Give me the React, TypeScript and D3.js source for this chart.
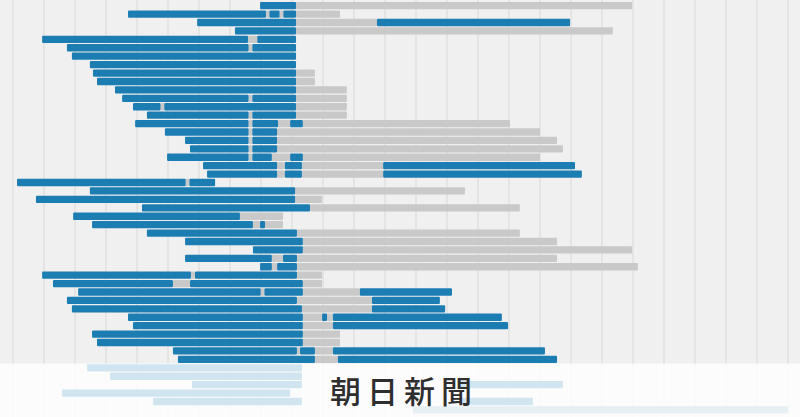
import React from "react";
import * as d3 from "d3";

type Seg = [number, number, number]; // [row, start, end]

const gridTicks: number[] = d3.range(0, 251, 10);

const blueBars: Seg[] = [
  [0, 79.7, 91.3],
  [1, 37.1, 81.6], [1, 82.7, 86.0], [1, 87.2, 91.3],
  [2, 59.4, 91.3], [2, 117.4, 179.7],
  [3, 71.6, 91.3],
  [4, 9.4, 75.8], [4, 78.8, 91.3],
  [5, 17.4, 76.0], [5, 77.2, 91.3],
  [6, 19.0, 91.3],
  [7, 24.8, 91.3],
  [8, 25.8, 91.3],
  [9, 27.1, 91.3],
  [10, 32.9, 91.3],
  [11, 35.2, 76.0], [11, 77.2, 91.3],
  [12, 38.7, 47.6], [12, 48.8, 91.3],
  [13, 43.2, 76.0], [13, 77.2, 91.3],
  [14, 39.4, 76.0], [14, 77.2, 85.5], [14, 89.4, 93.5],
  [15, 49.0, 76.0], [15, 77.2, 85.2],
  [16, 55.5, 76.0], [16, 77.2, 85.2],
  [17, 57.1, 76.0], [17, 77.2, 85.2],
  [18, 49.7, 76.0], [18, 77.2, 83.5], [18, 89.4, 93.5],
  [19, 61.3, 85.2], [19, 87.7, 93.2], [19, 119.4, 181.3],
  [20, 62.6, 85.2], [20, 87.7, 93.2], [20, 119.4, 183.5],
  [21, 1.3, 55.7], [21, 56.9, 65.2],
  [22, 24.8, 91.0],
  [23, 7.4, 91.0],
  [24, 41.6, 95.8],
  [25, 19.4, 73.2],
  [26, 25.5, 77.4], [26, 79.7, 81.3],
  [27, 43.2, 91.6],
  [28, 55.5, 93.5],
  [29, 77.4, 93.5],
  [30, 55.5, 83.5], [30, 87.1, 91.6],
  [31, 79.7, 83.5], [31, 85.2, 91.6],
  [32, 9.4, 57.4], [32, 58.7, 91.6],
  [33, 12.9, 51.6], [33, 57.1, 93.5],
  [34, 21.0, 79.9], [34, 81.1, 93.5], [34, 111.9, 141.6],
  [35, 17.4, 91.6], [35, 115.8, 137.7],
  [36, 19.0, 93.2], [36, 115.8, 139.4],
  [37, 37.1, 93.5], [37, 99.7, 101.3], [37, 103.2, 157.7],
  [38, 38.7, 93.5], [38, 103.2, 159.7],
  [39, 25.5, 93.5],
  [40, 27.1, 93.5],
  [41, 51.6, 91.6], [41, 92.6, 97.4], [41, 103.2, 171.6],
  [42, 53.2, 97.4], [42, 104.8, 175.5],
  [43, 23.9, 93.2],
  [44, 31.3, 93.2],
  [45, 57.7, 93.2], [45, 144.2, 177.4],
  [46, 15.8, 89.4],
  [47, 45.2, 93.2], [47, 144.2, 167.7],
];

const paleBars: Seg[] = [
  [48, 129.0, 250],
];

const grayBars: Seg[] = [
  [0, 91.3, 199.7],
  [1, 81.6, 82.7], [1, 86.0, 87.2], [1, 91.3, 105.5],
  [2, 91.3, 117.4],
  [3, 91.3, 193.5],
  [4, 75.8, 78.8],
  [5, 76.0, 77.2],
  [8, 91.3, 97.4],
  [9, 91.3, 97.4],
  [10, 91.3, 107.7],
  [11, 76.0, 77.2], [11, 91.3, 107.7],
  [12, 47.6, 48.8], [12, 91.3, 107.7],
  [13, 76.0, 77.2], [13, 91.3, 107.7],
  [14, 76.0, 77.2], [14, 85.5, 89.4], [14, 93.5, 160.3],
  [15, 76.0, 77.2], [15, 85.2, 170.0],
  [16, 76.0, 77.2], [16, 85.2, 175.5],
  [17, 76.0, 77.2], [17, 85.2, 177.4],
  [18, 76.0, 77.2], [18, 83.5, 89.4], [18, 93.5, 170.0],
  [19, 85.2, 87.7], [19, 93.2, 119.4],
  [20, 85.2, 87.7], [20, 93.2, 119.4],
  [21, 55.7, 56.9],
  [22, 91.0, 145.8],
  [23, 91.0, 99.7],
  [24, 95.8, 163.5],
  [25, 73.2, 87.1],
  [26, 77.4, 79.7], [26, 81.3, 87.1],
  [27, 91.6, 163.5],
  [28, 93.5, 175.5],
  [29, 93.5, 199.7],
  [30, 83.5, 87.1], [30, 91.6, 175.5],
  [31, 83.5, 85.2], [31, 91.6, 201.6],
  [32, 57.4, 58.7], [32, 91.6, 99.7],
  [33, 51.6, 57.1], [33, 93.5, 99.7],
  [34, 79.9, 81.1], [34, 93.5, 111.9],
  [35, 91.6, 115.8],
  [36, 93.2, 115.8],
  [37, 93.5, 99.7], [37, 101.3, 103.2],
  [38, 93.5, 103.2],
  [39, 93.5, 105.5],
  [40, 93.5, 105.5],
  [41, 91.6, 92.6], [41, 97.4, 103.2],
  [42, 97.4, 104.8],
];

const rowCount = 49;
const footerTitle = "朝日新聞";

const W = 800;
const H = 417;
const BLUE = "#1c7db2";
const GRAY = "#c9c9c9";
const BG = "#f0f0f0";
const GRID = "#e1e1e1";

export default function App() {
  const x = d3.scaleLinear().domain([0, 250]).range([13, 788]);
  const y = d3
    .scaleBand<number>()
    .domain(d3.range(rowCount))
    .range([1.5, 1.5 + rowCount * 8.42])
    .paddingInner(0.13)
    .paddingOuter(0.06);
  const chartBottom = 363.5;

  const rect = (s: Seg, fill: string, key: string) => (
    <rect
      key={key}
      x={x(s[1])}
      y={y(s[0])}
      width={Math.max(0, x(s[2]) - x(s[1]))}
      height={y.bandwidth()}
      fill={fill}
      rx={1}
    />
  );

  return (
    <svg
      width={W}
      height={H}
      style={{ position: "absolute", left: 0, top: 0, display: "block" }}
    >
      <rect x={0} y={0} width={W} height={H} fill={BG} />
      {gridTicks.map((t) => (
        <line
          key={t}
          x1={x(t)}
          x2={x(t)}
          y1={0}
          y2={H}
          stroke={GRID}
          strokeWidth={1.5}
        />
      ))}
      <g>{grayBars.map((s, i) => rect(s, GRAY, "g" + i))}</g>
      <g>{blueBars.map((s, i) => rect(s, BLUE, "b" + i))}</g>
      <rect
        x={0}
        y={chartBottom}
        width={W}
        height={H - chartBottom}
        fill="#ffffff"
        opacity={0.8}
      />
      <g>{paleBars.map((s, i) => rect(s, "#e6eff3", "p" + i))}</g>
      <text
        x={404}
        y={403}
        textAnchor="middle"
        fontFamily="'Noto Sans CJK JP', 'Noto Sans', sans-serif"
        fontSize={31}
        fontWeight={500}
        fill="#2e2e2e"
        letterSpacing={6}
      >
        {footerTitle}
      </text>
    </svg>
  );
}
